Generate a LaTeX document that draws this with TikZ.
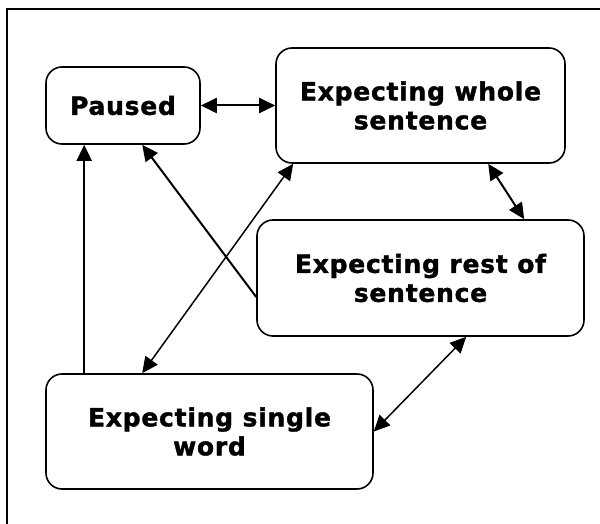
\documentclass[tikz,border=0pt]{standalone}
\usepackage{fontspec}
\setmainfont{DejaVu Sans}[LetterSpace=3,BoldFeatures={FakeBold=1.5}]
\usetikzlibrary{arrows.meta}

\begin{document}
\begin{tikzpicture}[x=1pt,y=-1pt,
    state/.style={draw,line width=1.6pt,rounded corners=16pt,inner sep=0pt,
      align=center,font=\fontsize{25}{29}\selectfont\bfseries},
    link/.style={line width=2pt,>={Triangle[length=16pt,width=15pt]}},
    thin link/.style={line width=1.5pt,>={Triangle[length=16pt,width=15pt]}}]
      \useasboundingbox (0,0) rectangle (600,524);
      \draw[line width=2pt] (7,524) -- (7,9) -- (600,9);
      \draw
        (123,105.5) node[state,minimum width=154pt,minimum height=77pt] (paused){Paused}
        (420.5,105.5) node[state,minimum width=289pt,minimum height=115pt] (whole){Expecting whole\\sentence}
        (420.5,278) node[state,minimum width=327pt,minimum height=116pt] (rest){Expecting rest of\\sentence}
        (209.5,431.5) node[state,minimum width=327pt,minimum height=115pt] (single){Expecting single\\word};
      \begin{scope}[link]
        \draw[<->] (paused) to (whole);
        \draw[->] ([xshift=39pt]single.north west) to ([xshift=39pt]paused.south west);
        \draw[->] ([yshift=-19pt]rest.west) to ([xshift=97pt]paused.south west);
        \draw[<->] ([xshift=213pt]whole.south west) to ([xshift=268pt]rest.north west);
      \end{scope}
      \begin{scope}[thin link]
        \draw[<->] ([xshift=18pt]whole.south west) to ([xshift=97pt]single.north west);
        \draw[<->] (single.east) to ([xshift=210pt]rest.south west);
      \end{scope}
    \end{tikzpicture}
\end{document}
